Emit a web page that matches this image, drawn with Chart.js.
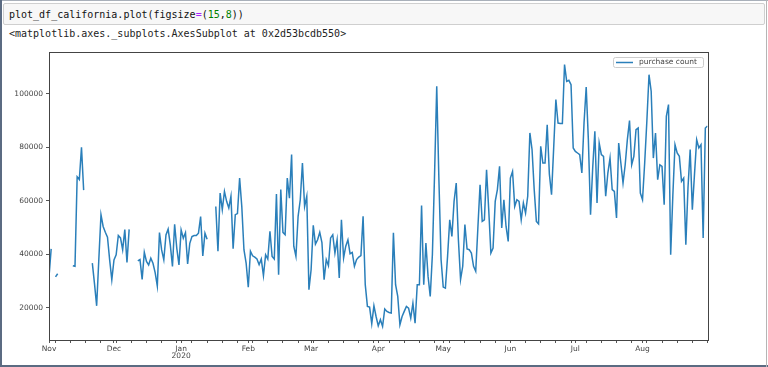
<!DOCTYPE html>
<html>
<head>
<meta charset="utf-8">
<script src="https://cdn.jsdelivr.net/npm/chart.js@4.4.1/dist/chart.umd.min.js"></script>
<style>
  html, body { margin: 0; padding: 0; background: #fff; }
  #page { position: relative; width: 768px; height: 367px; overflow: hidden; background: #fff; }
  .frame-l { position: absolute; left: 0; top: 0; width: 2px; height: 367px; background: #5b6b82; }
  .frame-b { position: absolute; left: 0; bottom: 0; width: 768px; height: 2px; background: #5b6b82; }
  .frame-t { position: absolute; left: 0; top: 0; width: 768px; height: 1px; background: #a9b0ba; }
  .frame-r { position: absolute; right: 1px; top: 0; width: 1px; height: 367px; background: #b5b5b5; }
  .cell-in { position: absolute; left: 3px; top: 3px; width: 762px; height: 22px; box-sizing: border-box;
             background: #f7f7f7; border: 1px solid #cfcfcf; border-radius: 2px; }
  .code { position: absolute; left: 9px; top: 8px; font: 10px "DejaVu Sans Mono", monospace;
          line-height: 13px; color: #111; white-space: pre; }
  .out { position: absolute; left: 9px; top: 27px; font: 10px "DejaVu Sans Mono", monospace;
         line-height: 13px; color: #222; white-space: pre; }
  .op { color: #aa22ff; }
  .num { color: #008000; }
  #chart { position: absolute; left: 0; top: 0; }
</style>
</head>
<body>
<div id="page">
  <div class="cell-in"></div>
  <div class="code">plot_df_california.plot(figsize<span class="op">=</span>(<span class="num">15</span>,<span class="num">8</span>))</div>
  <div class="out">&lt;matplotlib.axes._subplots.AxesSubplot at 0x2d53bcdb550&gt;</div>
  <canvas id="chart" width="768" height="367"></canvas>
  <div class="frame-t"></div>
  <div class="frame-l"></div>
  <div class="frame-b"></div>
  <div class="frame-r"></div>
</div>

<script>
// Daily purchase count, 2019-11-01 .. 2020-08-31 (null = missing day)
const nov = [31500, 42000, null, 31500, 32700, null, null, null, null, null, null, 35700, 35500, 69000, 68000,
  80000, 64000, null, null, null, 36700, 29000, 20700, 38000, 54800, 50400, 48200, 46400, 37900, 30400];
const dec = [37900, 39800, 47000, 46100, 41700, 49200, 36900, 49300, null, null, null, 37500, 38000, 30600, 40700,
  37300, 36000, 38500, 36600, 33100, 28100, 48100, 41600, 37900, 47200, 49400, 43500, 35400, 51200, 42200, 36000];
const jan = [49100, 46000, 48100, 36400, 44100, 46600, 47000, 47000, 47900, 54100, 39400, 47900, 45600, null, null,
  null, 57900, 41100, 62900, 56700, 63500, 59800, 57300, 61700, 42100, 54800, 55200, 68500, 57900, 41700, 36700];
const feb = [27700, 41100, 39400, 38900, 38200, 36100, 38200, 32000, 39800, 38200, 48600, 39200, 38200, 62500, 32300,
  64200, 48200, 47300, 68500, 61000, 77300, 43000, 39200, 54200, 60400, 74150, 57900, 61700, 26700];
const mar = [34200, 50800, 43800, 45400, 48200, 44400, 30500, 38000, 35700, 46100, 47300, 40400, 45400, 31100, 52900,
  38600, 43000, 45400, 40200, 40700, 35500, 38000, 38950, 39500, 54200, 28600, 20500, 20200, 14000, 20700, 16700];
const apr = [13200, 15500, 13000, 19500, 18600, 18200, 18000, 48000, 28600, 24200, 13600, 16700, 18600, 20500, 19850,
  16100, 21700, 14200, 28600, 28600, 58200, 28600, 44200, 31700, 24200, 40000, 70000, 102900, 68000, 38000];
const may = [27700, 27300, 39200, 52900, 46700, 59800, 66650, 45400, 30500, 35500, 51100, 42000, 41700, 40450, 35450,
  33600, 50000, 66000, 52300, 52900, 71650, 56700, 40450, 42300, 59800, 64200, 72900, 49800, 60400, 50400, 44800];
const jun = [68500, 71000, 57900, 60400, 59800, 52900, 59200, 55400, 61700, 85400, 79200, 64200, 52300, 51400, 80400,
  74150, 74150, 88500, 70000, 62300, 80000, 97900, 89100, 88900, 88900, 110970, 104700, 105100, 103500, 79800];
const jul = [78500, 77900, 77300, 70400, 89100, 102600, 82900, 54800, 72300, 86000, 59200, 81600, 77300, 76650, 61700,
  70400, 76000, 64200, 63500, 53600, 81600, 74150, 66650, 73500, 82900, 90000, 73500, 76650, 86600, 87250, 62900];
const aug = [60400, 74150, 89750, 107200, 101000, 76000, 85400, 67900, 73500, 72900, 58550, 91600, 96000, 39800, 62000,
  81000, 77900, 76650, 67300, 68500, 43600, 65000, 79200, 56700, 70000, 82900, 79800, 81000, 46100, 87250, 88000];

const months = [nov, dec, jan, feb, mar, apr, may, jun, jul, aug];
const monthLabels = ["Nov", "Dec", ["Jan", "2020"], "Feb", "Mar", "Apr", "May", "Jun", "Jul", "Aug"];
const yTicks = [20000, 40000, 60000, 80000, 100000];

// day index of each month start, and the Monday minor ticks
const monthStarts = [];
let day = 0;
months.forEach(m => { monthStarts.push(day); day += m.length; });
const lastDay = day - 1;
const mondays = [];
for (let d = 3; d <= lastDay; d += 7) mondays.push(d);  // 2019-11-04 was a Monday

const values = [].concat(...months);
const points = values.map((v, i) => ({ x: i, y: v }));

const tickFont = { family: "DejaVu Sans", size: 7.5, lineHeight: 1.0 };
const lineColor = "#2a7fba";

// matplotlib-like box + legend
const boxAndLegend = {
  id: "boxAndLegend",
  afterDraw(chart) {
    const { ctx, chartArea: a } = chart;
    ctx.save();
    ctx.strokeStyle = "#444";
    ctx.lineWidth = 1;
    ctx.strokeRect(Math.round(a.left) + 0.5, Math.round(a.top) + 0.5,
      Math.round(a.right - a.left), Math.round(a.bottom - a.top));

    // legend
    const lx = 613.5, ly = 57.5, lw = 90, lh = 10;
    ctx.fillStyle = "rgba(255,255,255,0.85)";
    ctx.strokeStyle = "#cccccc";
    ctx.beginPath();
    ctx.roundRect(lx, ly, lw, lh, 2);
    ctx.fill();
    ctx.stroke();
    ctx.strokeStyle = lineColor;
    ctx.lineWidth = 1.5;
    ctx.beginPath();
    ctx.moveTo(616, 62.5);
    ctx.lineTo(633, 62.5);
    ctx.stroke();
    ctx.fillStyle = "#444";
    ctx.font = "7.5px 'DejaVu Sans'";
    ctx.textBaseline = "middle";
    ctx.fillText(chart.data.datasets[0].label, 639, 62.5);
    ctx.restore();
  }
};

new Chart(document.getElementById("chart"), {
  type: "line",
  data: {
    datasets: [{
      label: "purchase count",
      data: points,
      borderColor: lineColor,
      borderWidth: 1.5,
      pointRadius: 0,
      tension: 0,
      spanGaps: false,
      fill: false
    }]
  },
  options: {
    responsive: false,
    animation: false,
    devicePixelRatio: 1,
    layout: { padding: { top: 52, right: 60.5, bottom: 0, left: 0 } },
    plugins: { legend: { display: false }, tooltip: { enabled: false } },
    scales: {
      x: {
        type: "linear",
        min: 0,
        max: lastDay,
        afterBuildTicks: scale => {
          const all = Array.from(new Set([...monthStarts, ...mondays])).sort((p, q) => p - q);
          scale.ticks = all.map(v => ({ value: v }));
        },
        afterFit: scale => { scale.height = 27; },
        ticks: {
          autoSkip: false,
          maxRotation: 0,
          padding: 2,
          color: "#444",
          font: tickFont,
          callback: v => {
            const k = monthStarts.indexOf(v);
            return k >= 0 ? monthLabels[k] : "";
          }
        },
        grid: { display: true, drawOnChartArea: false, drawTicks: true, tickLength: 3, tickColor: "#555" },
        border: { display: false }
      },
      y: {
        min: 7900,
        max: 115700,
        afterBuildTicks: scale => { scale.ticks = yTicks.map(v => ({ value: v })); },
        afterFit: scale => { scale.width = 49; },
        ticks: {
          padding: 3,
          color: "#444",
          font: tickFont,
          callback: v => String(v)
        },
        grid: { display: true, drawOnChartArea: false, drawTicks: true, tickLength: 3, tickColor: "#555" },
        border: { display: false }
      }
    }
  },
  plugins: [boxAndLegend]
});
</script>
</body>
</html>
